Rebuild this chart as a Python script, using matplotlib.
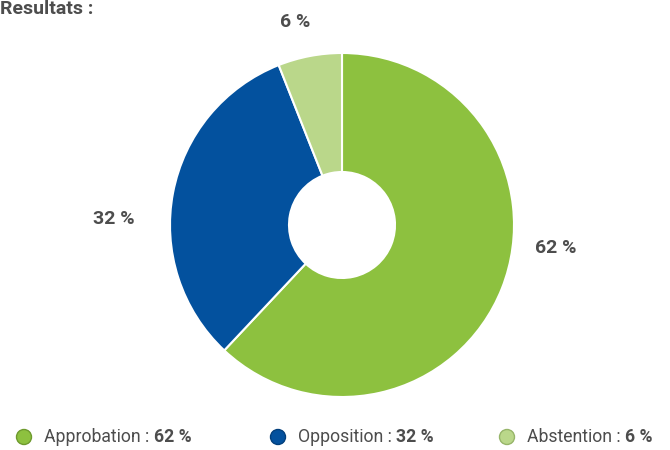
import matplotlib.pyplot as plt
from matplotlib.patches import Circle
from matplotlib import font_manager

# vote results
labels = ['Approbation', 'Opposition', 'Abstention']
values = [62, 32, 6]
colors = ['#8DC13F', '#03519E', '#BAD78A']
edge_colors = ['#6E9A2E', '#023F7C', '#97B56A']

names = [f.name for f in font_manager.fontManager.ttflist]
fam = 'Liberation Sans Narrow' if 'Liberation Sans Narrow' in names else 'Roboto'
plt.rcParams['font.family'] = [fam, 'DejaVu Sans']
gray = '#4D4D4D'

fig = plt.figure(figsize=(6.7, 4.5), dpi=100)
ax = fig.add_axes([0, 0, 1, 1])
ax.set_xlim(0, 670)
ax.set_ylim(0, 450)
ax.set_aspect('equal')
ax.axis('off')

cx, cy, r = 342, 225, 172
wedges, _ = ax.pie(values, colors=colors, startangle=90, counterclock=False,
                   center=(cx, cy), radius=r,
                   wedgeprops=dict(width=r - 53, edgecolor='white', linewidth=1.5))
ax.set_xlim(0, 670)
ax.set_ylim(0, 450)

# percentage labels around the ring
label_pos = [(556, 202), (114, 231), (295, 428)]
for v, (x, y) in zip(values, label_pos):
    ax.text(x, y, f'{v} %', ha='center', va='center', fontsize=14,
            fontweight='bold', color=gray)

ax.text(0, 436, 'Resultats :', ha='left', va='baseline', fontsize=14,
        fontweight='bold', color=gray)

# legend row
fig.canvas.draw()
renderer = fig.canvas.get_renderer()
legend_x = [24, 278, 507]
for lab, v, c, ec, x in zip(labels, values, colors, edge_colors, legend_x):
    ax.add_patch(Circle((x, 13), 7.5, facecolor=c, edgecolor=ec, linewidth=1))
    t = ax.text(x + 20, 13, f'{lab} : ', ha='left', va='center', fontsize=12.7,
                color=gray)
    bb = t.get_window_extent(renderer)
    x_end = ax.transData.inverted().transform((bb.x1, bb.y0))[0]
    ax.text(x_end, 13, f'{v} %', ha='left', va='center', fontsize=12.7,
            fontweight='bold', color=gray)

fig.savefig('out.png', dpi=100)
